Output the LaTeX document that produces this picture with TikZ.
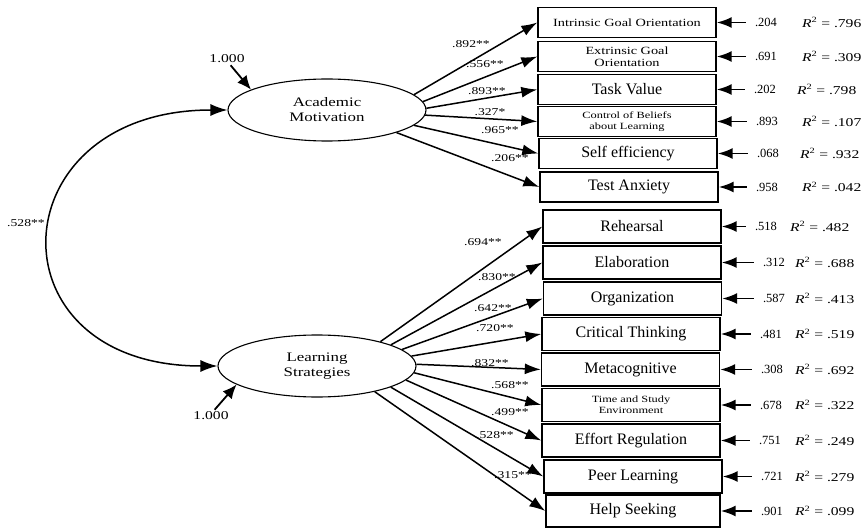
\documentclass[tikz,border=0pt]{standalone}
\usepackage{fontspec}
\setmainfont{Liberation Serif}
\newfontfamily\widefont[FakeStretch=1.3]{Liberation Serif}
\usetikzlibrary{arrows.meta,shapes.geometric}
\begin{document}
\begin{tikzpicture}[x=1pt,y=-1pt,every node/.style={font=\fontsize{11}{13}\selectfont}]
\tikzstyle{latent}=[ellipse,draw,line width=1.1pt,minimum width=198pt,minimum height=62pt,inner sep=0pt,align=center,font=\widefont\fontsize{13}{15}\selectfont]
\tikzstyle{ind}=[draw,line width=1.4pt,minimum width=178pt,minimum height=30pt,inner sep=2pt,align=center,font=\fontsize{16}{18}\selectfont]
\tikzstyle{indlow}=[ind,minimum height=33pt]
\tikzstyle{midtxt}=[font=\widefont\fontsize{11}{12}\selectfont]
\tikzstyle{twoline}=[font=\widefont\fontsize{9.5}{11}\selectfont]
\tikzstyle{loadlbl}=[inner sep=1pt,font=\widefont\fontsize{10.5}{12}\selectfont]
\tikzstyle{varlbl}=[inner sep=2pt,font=\widefont\fontsize{12}{14}\selectfont]
\tikzstyle{errval}=[inner sep=2pt,font=\fontsize{12.5}{14}\selectfont]
\tikzstyle{rsq}=[anchor=west,inner sep=0pt,font=\widefont\fontsize{12}{14}\selectfont]
\tikzstyle{ldarr}=[-{Latex[length=16pt,width=11pt]},line width=1.5pt]
\tikzstyle{covarr}=[{Latex[length=17pt,width=12pt]}-{Latex[length=17pt,width=12pt]},line width=1.5pt]
\tikzstyle{vararr}=[-{Latex[length=14pt,width=12pt]},line width=1.8pt]
\tikzstyle{errarr}=[-{Latex[length=15pt,width=11pt]},line width=1.9pt,shorten <=7pt]
\useasboundingbox (0,0) rectangle (866,529);
% latent factors
\node[latent] (am) at (327,110) {Academic\\Motivation};
\node[latent] (ls) at (317,366) {Learning\\Strategies};
% motivation scales
\node[ind,midtxt] (igo) at (627,22.5) {Intrinsic Goal Orientation};
\node[ind,midtxt] (ego) at (627,56.5) {Extrinsic Goal\\Orientation};
\node[ind] (tv) at (627,89.5) {Task Value};
\node[ind,twoline] (cbl) at (627,121.5) {Control of Beliefs\\about Learning};
\node[ind] (se) at (628,153.5) {Self efficiency};
\node[ind] (ta) at (629,187) {Test Anxiety};
% strategy scales
\node[indlow] (reh) at (632,226.5) {Rehearsal};
\node[indlow] (ela) at (632,262.5) {Elaboration};
\node[indlow] (org) at (632.5,298.5) {Organization};
\node[indlow] (ct) at (631,334) {Critical Thinking};
\node[indlow] (meta) at (630.5,369.5) {Metacognitive};
\node[indlow,twoline] (tse) at (631,405) {Time and Study\\Environment};
\node[indlow] (er) at (631,440.5) {Effort Regulation};
\node[indlow] (pl) at (633,476.5) {Peer Learning};
\node[indlow,minimum width=174pt,minimum height=32pt] (hs) at (633,511) {Help Seeking};
% loadings
\draw[ldarr] (am.10) -- (igo.west);
\draw[ldarr] (am.5) -- (ego.west);
\draw[ldarr] (am.1) -- (tv.west);
\draw[ldarr] (am.-3) -- (cbl.west);
\draw[ldarr] (am.-10) -- (se.west);
\draw[ldarr] (am.-18) -- (ta.west);
\draw[ldarr] (ls.21) -- (reh.west);
\draw[ldarr] (ls.16) -- (ela.west);
\draw[ldarr] (ls.11) -- (org.west);
\draw[ldarr] (ls.6) -- (ct.west);
\draw[ldarr] (ls.1) -- (meta.west);
\draw[ldarr] (ls.-4) -- (tse.west);
\draw[ldarr] (ls.-9) -- (er.west);
\draw[ldarr] (ls.-16) -- (pl.west);
\draw[ldarr] (ls.-24) -- (hs.west);
\node[loadlbl] (l1) at (471,44) {.892**};
\node[loadlbl] (l2) at (485,64) {.556**};
\node[loadlbl] (l3) at (487,91) {.893**};
\node[loadlbl] (l4) at (490,112) {.327*};
\node[loadlbl] (l5) at (500,130) {.965**};
\node[loadlbl] (l6) at (510,158) {.206**};
\node[loadlbl] (l7) at (483,242) {.694**};
\node[loadlbl] (l8) at (497,277) {.830**};
\node[loadlbl] (l9) at (493,308) {.642**};
\node[loadlbl] (l10) at (495,328) {.720**};
\node[loadlbl] (l11) at (490,363) {.832**};
\node[loadlbl] (l12) at (510,385) {.568**};
\node[loadlbl] (l13) at (510,412) {.499**};
\node[loadlbl] (l14) at (495,435) {.528**};
\node[loadlbl] (l15) at (513,475) {.315**};
% covariance and variances
\draw[covarr] (am.west) .. controls +(-230,0) and +(-230,0) .. (ls.west);
\node[loadlbl] (cov) at (26,223) {.528**};
\node[varlbl] (v1) at (227,59) {1.000};
\draw[vararr] (v1.-60) -- (am.165);
\node[varlbl] (v2) at (211,416) {1.000};
\draw[vararr] (v2.60) -- (ls.193);
% error terms
\node[errval] (e1) at (766,22.5) {.204};
\node[rsq] (r1) at (802,22.5) {\textit{R}\textsuperscript{2} = .796};
\node[errval] (e2) at (766,56.5) {.691};
\node[rsq] (r2) at (802,56.5) {\textit{R}\textsuperscript{2} = .309};
\node[errval] (e3) at (765,89.5) {.202};
\node[rsq] (r3) at (797,89.5) {\textit{R}\textsuperscript{2} = .798};
\node[errval] (e4) at (767,121.5) {.893};
\node[rsq] (r4) at (802,121.5) {\textit{R}\textsuperscript{2} = .107};
\node[errval] (e5) at (768,153.5) {.068};
\node[rsq] (r5) at (800,153.5) {\textit{R}\textsuperscript{2} = .932};
\node[errval] (e6) at (767,187) {.958};
\node[rsq] (r6) at (802,187) {\textit{R}\textsuperscript{2} = .042};
\node[errval] (e7) at (766,226.5) {.518};
\node[rsq] (r7) at (790,226.5) {\textit{R}\textsuperscript{2} = .482};
\node[errval] (e8) at (774,262.5) {.312};
\node[rsq] (r8) at (795,262.5) {\textit{R}\textsuperscript{2} = .688};
\node[errval] (e9) at (774,298.5) {.587};
\node[rsq] (r9) at (795,298.5) {\textit{R}\textsuperscript{2} = .413};
\node[errval] (e10) at (771,334) {.481};
\node[rsq] (r10) at (795,334) {\textit{R}\textsuperscript{2} = .519};
\node[errval] (e11) at (772,369.5) {.308};
\node[rsq] (r11) at (795,369.5) {\textit{R}\textsuperscript{2} = .692};
\node[errval] (e12) at (771,405) {.678};
\node[rsq] (r12) at (795,405) {\textit{R}\textsuperscript{2} = .322};
\node[errval] (e13) at (770,440.5) {.751};
\node[rsq] (r13) at (795,440.5) {\textit{R}\textsuperscript{2} = .249};
\node[errval] (e14) at (772,476.5) {.721};
\node[rsq] (r14) at (795,476.5) {\textit{R}\textsuperscript{2} = .279};
\node[errval] (e15) at (772,511) {.901};
\node[rsq] (r15) at (795,511) {\textit{R}\textsuperscript{2} = .099};
\draw[errarr] (e1) -- (igo);
\draw[errarr] (e2) -- (ego);
\draw[errarr] (e3) -- (tv);
\draw[errarr] (e4) -- (cbl);
\draw[errarr] (e5) -- (se);
\draw[errarr] (e6) -- (ta);
\draw[errarr] (e7) -- (reh);
\draw[errarr] (e8) -- (ela);
\draw[errarr] (e9) -- (org);
\draw[errarr] (e10) -- (ct);
\draw[errarr] (e11) -- (meta);
\draw[errarr] (e12) -- (tse);
\draw[errarr] (e13) -- (er);
\draw[errarr] (e14) -- (pl);
\draw[errarr] (e15) -- (hs);
\end{tikzpicture}
\end{document}
